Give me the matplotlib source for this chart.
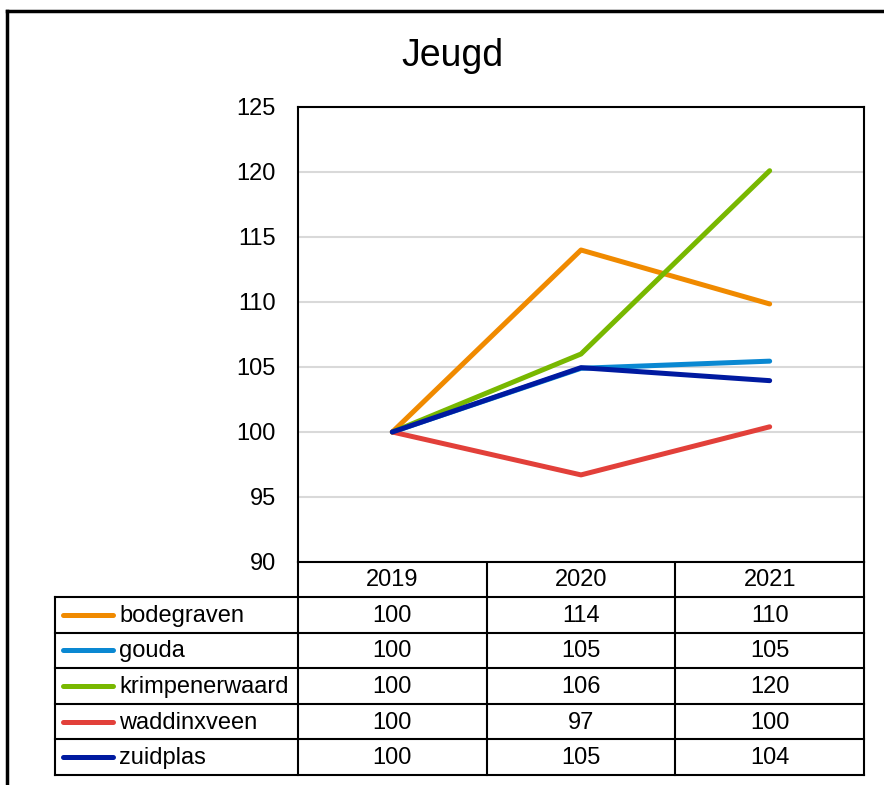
import matplotlib.pyplot as plt
from matplotlib.transforms import blended_transform_factory

plt.rcParams['font.family'] = ['Liberation Sans', 'DejaVu Sans']

years = ['2019', '2020', '2021']
gemeenten = ['bodegraven', 'gouda', 'krimpenerwaard', 'waddinxveen', 'zuidplas']
bodegraven = [100, 114.0, 109.85]
gouda = [100, 104.9, 105.45]
krimpenerwaard = [100, 106.0, 120.1]
waddinxveen = [100, 96.7, 100.4]
zuidplas = [100, 104.95, 103.95]
series = [bodegraven, gouda, krimpenerwaard, waddinxveen, zuidplas]
colors = ['#F08A00', '#0A88D2', '#78B800', '#E2403A', '#001AA0']
yticks = [90, 95, 100, 105, 110, 115, 120, 125]

FS = 17
W, H = 884, 785
fig = plt.figure(figsize=(W / 100, H / 100), dpi=100)

# overlay in pixel coordinates for frame and table
ov = fig.add_axes([0, 0, 1, 1])
ov.set_xlim(0, W)
ov.set_ylim(H, 0)
ov.axis('off')

# plot area
L, R, T, B = 298, 864, 107, 562
ax = fig.add_axes([L / W, 1 - B / H, (R - L) / W, (B - T) / H])
x = list(range(len(years)))
for vals, c in zip(series, colors):
    ax.plot(x, vals, color=c, lw=3.6, solid_capstyle='round', solid_joinstyle='round', zorder=3)
ax.set_xlim(-0.5, len(years) - 0.5)
ax.set_ylim(90, 125)
ax.set_yticks(yticks)
ax.set_xticks([])
ax.grid(axis='y', color='#d9d9d9', lw=1.5, zorder=0)
ax.tick_params(axis='y', length=0, pad=16, labelsize=FS)
for s in ax.spines.values():
    s.set_linewidth(1.5)
    s.set_color('black')
ax.set_yticklabels([str(t) for t in yticks])

fig.text(452 / W, 1 - 56 / H, 'Jeugd', ha='center', va='center', fontsize=27)

# outer chart frame (cropped)
ov.plot([7, W + 5], [11, 11], color='black', lw=2.5, clip_on=False)
ov.plot([7, 7], [11, H + 5], color='black', lw=2.5, clip_on=False)

# data table
tr = blended_transform_factory(ax.transData, ov.transData)
row_h = 35.6
hdr_top, hdr_bot = B, 597
lab_left = 55
n = len(gemeenten)
bottom = hdr_bot + n * row_h
lw = 1.5

for i, yr in enumerate(years):
    ov.text(i, (hdr_top + hdr_bot) / 2 + 1, yr, transform=tr, ha='center', va='center', fontsize=FS)

for i in range(len(years) + 1):
    ov.plot([i - 0.5, i - 0.5], [hdr_top, bottom], transform=tr, color='black', lw=lw)
ov.plot([lab_left, R], [hdr_bot, hdr_bot], color='black', lw=lw)
for r in range(1, n + 1):
    yy = hdr_bot + r * row_h
    ov.plot([lab_left, R], [yy, yy], color='black', lw=lw)
ov.plot([lab_left, lab_left], [hdr_bot, bottom], color='black', lw=lw)

for r, (name, vals, c) in enumerate(zip(gemeenten, series, colors)):
    yc = hdr_bot + (r + 0.5) * row_h + 1
    ov.plot([63, 113], [yc - 1, yc - 1], color=c, lw=3.6, solid_capstyle='round')
    ov.text(119, yc, name, ha='left', va='center', fontsize=FS)
    for i, v in enumerate(vals):
        ov.text(i, yc, f'{v:.0f}', transform=tr, ha='center', va='center', fontsize=FS)

fig.savefig('out.png', dpi=100, facecolor='white')
